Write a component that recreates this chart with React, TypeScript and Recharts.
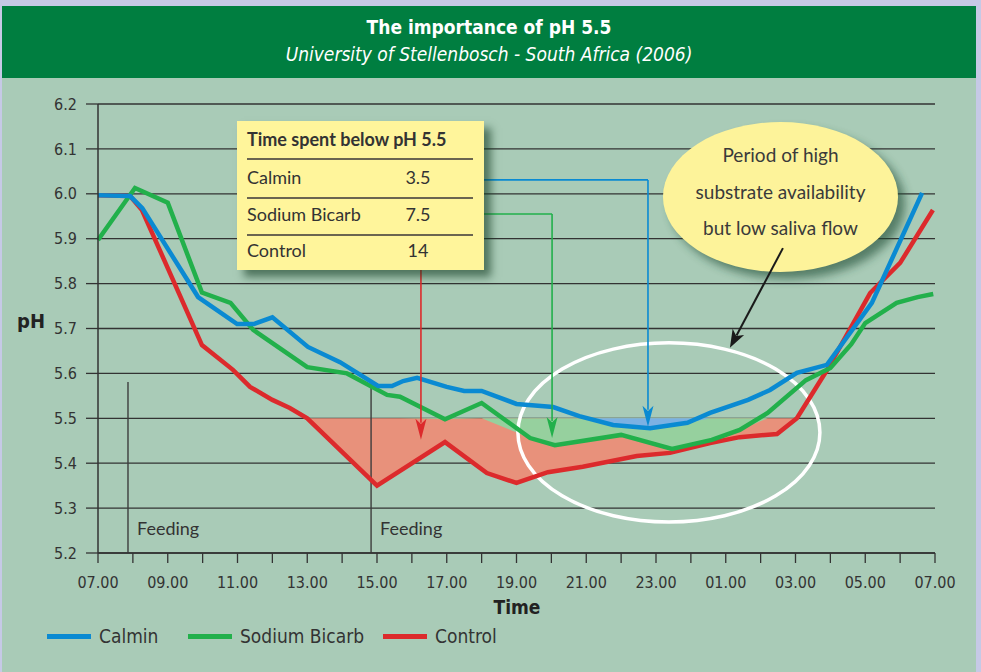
import React from "react";
import {
  ComposedChart,
  Line,
  Area,
  XAxis,
  YAxis,
  CartesianGrid,
  ReferenceLine,
  ReferenceArea,
} from "recharts";

// hours after 07.00 and pH readings
const calminHours = [0, 0.92, 1.27, 2.87, 3.99, 4.47, 5.0, 6.02, 6.94, 8.03, 8.43, 8.75, 9.15, 10.0, 10.5, 11.0, 12.0, 13.05, 13.8, 14.77, 15.83, 16.9, 17.55, 18.64, 19.27, 20.04, 20.9, 22.19, 23.63];
const calminPh = [5.997, 5.995, 5.968, 5.77, 5.71, 5.71, 5.725, 5.659, 5.625, 5.572, 5.572, 5.583, 5.59, 5.57, 5.561, 5.561, 5.532, 5.525, 5.505, 5.485, 5.478, 5.49, 5.512, 5.541, 5.563, 5.601, 5.619, 5.757, 6.002];

const bicarbHours = [0, 1.06, 2.0, 2.98, 3.8, 4.45, 6.0, 7.14, 8.29, 8.66, 9.95, 11.0, 12.39, 13.1, 15.0, 16.46, 17.6, 18.4, 19.2, 20.3, 21.0, 21.6, 22.0, 22.9, 23.5, 23.95];
const bicarbPh = [5.897, 6.013, 5.98, 5.78, 5.757, 5.697, 5.614, 5.6, 5.552, 5.548, 5.498, 5.534, 5.456, 5.44, 5.463, 5.432, 5.452, 5.474, 5.512, 5.585, 5.612, 5.665, 5.712, 5.757, 5.77, 5.777];

const controlHours = [0, 0.92, 1.26, 2.98, 3.87, 4.36, 5.0, 5.5, 6.0, 8.0, 9.95, 11.15, 12.0, 12.9, 13.9, 15.45, 16.4, 17.55, 18.4, 19.47, 20.04, 20.9, 22.14, 23.0, 23.94];
const controlPh = [5.997, 5.995, 5.964, 5.663, 5.608, 5.57, 5.541, 5.523, 5.5, 5.35, 5.447, 5.378, 5.356, 5.38, 5.392, 5.416, 5.423, 5.445, 5.458, 5.465, 5.5, 5.607, 5.779, 5.846, 5.964];

const yTicks = [5.2, 5.3, 5.4, 5.5, 5.6, 5.7, 5.8, 5.9, 6.0, 6.1, 6.2];
const xTicks = Array.from({ length: 25 }, (_, i) => i);
const THRESHOLD = 5.5;

const tableRows = [
  { name: "Calmin", value: "3.5" },
  { name: "Sodium Bicarb", value: "7.5" },
  { name: "Control", value: "14" },
];

const legendItems = [
  { name: "Calmin", color: "#0a8ad2" },
  { name: "Sodium Bicarb", color: "#22b04b" },
  { name: "Control", color: "#dc2a2c" },
];

const BLUE = "#0a8ad2";
const GREEN = "#22b04b";
const RED = "#dc2a2c";
const COND = "'Liberation Sans Narrow', 'DejaVu Sans Condensed', 'Roboto Condensed', sans-serif";
const HUMAN = "Lato, 'Open Sans', sans-serif";

const toRows = (hours: number[], ph: number[]) => hours.map((h, i) => ({ h, v: ph[i] }));
const toFill = (hours: number[], ph: number[]) =>
  hours.map((h, i) => ({ h, v: Math.min(ph[i], THRESHOLD) }));

const calminData = toRows(calminHours, calminPh);
const bicarbData = toRows(bicarbHours, bicarbPh);
const controlData = toRows(controlHours, controlPh);

const fmtHour = (h: number) => {
  if (h % 2 !== 0) return "";
  const c = (7 + h) % 24;
  return `${String(c).padStart(2, "0")}.00`;
};

// line with a filled arrow head at (x2, y2)
const arrowShape = (color: string, width: number, len: number, half: number) => (p: any) => {
  const { x1, y1, x2, y2 } = p;
  const dx = x2 - x1;
  const dy = y2 - y1;
  const d = Math.sqrt(dx * dx + dy * dy) || 1;
  const ux = dx / d;
  const uy = dy / d;
  const bx = x2 - ux * len;
  const by = y2 - uy * len;
  const pts = `${x2},${y2} ${bx - uy * half},${by + ux * half} ${bx + ux * len * 0.25},${by + uy * len * 0.25} ${bx + uy * half},${by - ux * half}`;
  return (
    <g>
      <line x1={x1} y1={y1} x2={bx + ux * 4} y2={by + uy * 4} stroke={color} strokeWidth={width} />
      <polygon points={pts} fill={color} />
    </g>
  );
};

const plainShape = (color: string, width: number) => (p: any) => (
  <line x1={p.x1} y1={p.y1} x2={p.x2} y2={p.y2} stroke={color} strokeWidth={width} />
);

const feedingShape = (p: any) => (
  <g>
    <line x1={p.x1} y1={p.y1} x2={p.x2} y2={p.y2} stroke="#3d3d3d" strokeWidth={1.4} />
    <text x={p.x1 + 9} y={p.y2 - 18} fontFamily={HUMAN} fontSize={18} fill="#333">
      Feeding
    </text>
  </g>
);

const calloutShape = (p: any) => {
  const cx = p.x + p.width / 2;
  const cy = p.y + p.height / 2;
  return (
    <g>
      <defs>
        <filter id="bubbleShadow" x="-30%" y="-30%" width="160%" height="160%">
          <feGaussianBlur stdDeviation="5" />
        </filter>
      </defs>
      <ellipse cx={cx + 7} cy={cy + 7} rx={p.width / 2} ry={p.height / 2} fill="#1f4a32" opacity={0.6} filter="url(#bubbleShadow)" />
      <ellipse cx={cx} cy={cy} rx={p.width / 2} ry={p.height / 2} fill="#fdf39a" />
      <text textAnchor="middle" fontFamily={HUMAN} fontSize={19} fill="#3a3a3a">
        <tspan x={cx} y={cy - 35}>Period of high</tspan>
        <tspan x={cx} y={cy + 2}>substrate availability</tspan>
        <tspan x={cx} y={cy + 38}>but low saliva flow</tspan>
      </text>
    </g>
  );
};

const ringShape = (p: any) => (
  <ellipse
    cx={p.x + p.width / 2}
    cy={p.y + p.height / 2}
    rx={p.width / 2}
    ry={p.height / 2}
    fill="none"
    stroke="#ffffff"
    strokeWidth={3.5}
  />
);

export default function App() {
  return (
    <div style={{ position: "absolute", left: 0, top: 0, width: 981, height: 672, background: "#c6c9e6", overflow: "hidden" }}>
      <div style={{ position: "absolute", left: 2, top: 6, width: 974, height: 666, background: "#a9cbb7" }} />
      <div
        style={{
          position: "absolute",
          left: 2,
          top: 6,
          width: 974,
          height: 72,
          background: "#007e40",
          color: "#fff",
          fontFamily: COND,
          textAlign: "center",
        }}
      >
        <div style={{ position: "absolute", top: 10, width: "100%", fontSize: 19, fontWeight: 700 }}>The importance of pH 5.5</div>
        <div style={{ position: "absolute", top: 37, width: "100%", fontSize: 19, fontStyle: "italic" }}>
          University of Stellenbosch - South Africa (2006)
        </div>
      </div>

      <div style={{ position: "absolute", left: 0, top: 0 }}>
        <ComposedChart width={981} height={672} margin={{ top: 104, right: 46, bottom: 79, left: 38 }}>
          <CartesianGrid horizontal vertical={false} stroke="#333" strokeWidth={1.3} />
          <XAxis
            type="number"
            dataKey="h"
            domain={[0, 24]}
            ticks={xTicks}
            interval={0}
            tickFormatter={fmtHour}
            height={40}
            tickSize={10}
            tickMargin={14}
            axisLine={{ stroke: "#333", strokeWidth: 1.5 }}
            tickLine={{ stroke: "#333", strokeWidth: 1.3 }}
            tick={{ fill: "#333", fontSize: 16, fontFamily: COND }}
            allowDuplicatedCategory={false}
          />
          <YAxis
            type="number"
            domain={[5.2, 6.2]}
            ticks={yTicks}
            interval={0}
            width={60}
            tickSize={12}
            tickMargin={9}
            tickFormatter={(v: number) => v.toFixed(1)}
            axisLine={{ stroke: "#333", strokeWidth: 1.5 }}
            tickLine={{ stroke: "#333", strokeWidth: 1.3 }}
            tick={{ fill: "#333", fontSize: 16, fontFamily: COND }}
          />

          <Area data={toFill(controlHours, controlPh)} dataKey="v" type="linear" baseValue={THRESHOLD} fill="#e8917b" fillOpacity={1} stroke="none" isAnimationActive={false} />
          <Area data={toFill(bicarbHours, bicarbPh)} dataKey="v" type="linear" baseValue={THRESHOLD} fill="#96d09e" fillOpacity={1} stroke="none" isAnimationActive={false} />
          <Area data={toFill(calminHours, calminPh)} dataKey="v" type="linear" baseValue={THRESHOLD} fill="#7bb1e3" fillOpacity={1} stroke="none" isAnimationActive={false} />

          <ReferenceLine segment={[{ x: 0.86, y: 5.581 }, { x: 0.86, y: 5.2 }]} shape={feedingShape} ifOverflow="visible" />
          <ReferenceLine segment={[{ x: 7.83, y: 5.581 }, { x: 7.83, y: 5.2 }]} shape={feedingShape} ifOverflow="visible" />

          <Line data={controlData} dataKey="v" type="linear" stroke={RED} strokeWidth={4.5} dot={false} isAnimationActive={false} />
          <Line data={bicarbData} dataKey="v" type="linear" stroke={GREEN} strokeWidth={4.5} dot={false} isAnimationActive={false} />
          <Line data={calminData} dataKey="v" type="linear" stroke={BLUE} strokeWidth={4.5} dot={false} isAnimationActive={false} />

          <ReferenceLine segment={[{ x: 9.95, y: 6.031 }, { x: 15.77, y: 6.031 }]} shape={plainShape(BLUE, 1.6)} ifOverflow="visible" />
          <ReferenceLine segment={[{ x: 15.77, y: 6.031 }, { x: 15.77, y: 5.481 }]} shape={arrowShape(BLUE, 1.6, 21, 5.5)} ifOverflow="visible" />
          <ReferenceLine segment={[{ x: 9.95, y: 5.955 }, { x: 13.02, y: 5.955 }]} shape={plainShape(GREEN, 1.6)} ifOverflow="visible" />
          <ReferenceLine segment={[{ x: 13.02, y: 5.955 }, { x: 13.02, y: 5.456 }]} shape={arrowShape(GREEN, 1.6, 21, 5.5)} ifOverflow="visible" />
          <ReferenceLine segment={[{ x: 9.26, y: 5.85 }, { x: 9.26, y: 5.452 }]} shape={arrowShape(RED, 1.6, 21, 5.5)} ifOverflow="visible" />

          <ReferenceArea x1={12.04} x2={20.7} y1={5.269} y2={5.668} shape={ringShape} ifOverflow="visible" />
          <ReferenceArea x1={16.2} x2={22.94} y1={5.826} y2={6.16} shape={calloutShape} ifOverflow="visible" />
          <ReferenceLine segment={[{ x: 19.64, y: 5.879 }, { x: 18.12, y: 5.657 }]} shape={arrowShape("#1a1a1a", 2, 18, 6.5)} ifOverflow="visible" />
        </ComposedChart>
      </div>

      {/* time-below-threshold table */}
      <div
        style={{
          position: "absolute",
          left: 237,
          top: 121,
          width: 247,
          height: 149,
          background: "#fff59b",
          boxShadow: "7px 7px 8px rgba(20,60,35,0.6)",
          fontFamily: HUMAN,
          color: "#333",
        }}
      >
        <div style={{ position: "absolute", left: 10, top: 7, fontSize: 18, fontWeight: 700, whiteSpace: "nowrap" }}>
          Time spent below pH 5.5
        </div>
        {[37, 76, 113].map((t) => (
          <div key={t} style={{ position: "absolute", left: 10, top: t, width: 226, height: 1.5, background: "#6b6550" }} />
        ))}
        {tableRows.map((r, i) => (
          <React.Fragment key={r.name}>
            <div style={{ position: "absolute", left: 10, top: 45 + i * 36.5, fontSize: 18 }}>{r.name}</div>
            <div style={{ position: "absolute", left: 156, width: 50, textAlign: "center", top: 45 + i * 36.5, fontSize: 18 }}>
              {r.value}
            </div>
          </React.Fragment>
        ))}
      </div>

      <div style={{ position: "absolute", left: 17, top: 309, fontFamily: COND, fontWeight: 700, fontSize: 20, color: "#222" }}>pH</div>
      <div style={{ position: "absolute", left: 417, width: 200, textAlign: "center", top: 596, fontFamily: COND, fontWeight: 700, fontSize: 19, color: "#222" }}>
        Time
      </div>

      {legendItems.map((it, i) => {
        const left = [47, 188, 383][i];
        return (
          <div key={it.name} style={{ position: "absolute", left, top: 624, height: 24, display: "flex", alignItems: "center" }}>
            <span style={{ display: "inline-block", width: 44, height: 5, background: it.color, marginRight: 8 }} />
            <span style={{ fontFamily: COND, fontSize: 19, color: "#333" }}>{it.name}</span>
          </div>
        );
      })}
    </div>
  );
}
